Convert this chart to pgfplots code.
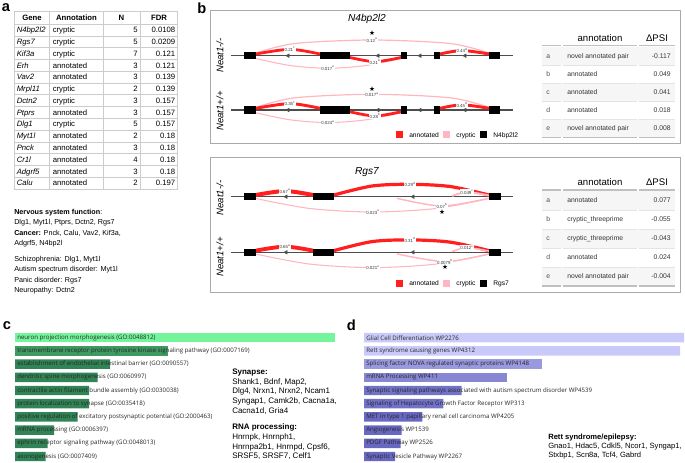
\documentclass[border=0pt]{standalone}
\usepackage{pgfplots}
\pgfplotsset{compat=1.18}
\usepackage{fontspec}
\setmainfont{Liberation Sans}
\newfontfamily\osans{Open Sans}
\newfontfamily\djv{DejaVu Sans}

\definecolor{annred}{HTML}{FF1F1F}
\definecolor{crypink}{HTML}{FFB6C1}
\definecolor{intron}{HTML}{4D4D4D}
\definecolor{grn1}{HTML}{74F59C}
\definecolor{grn2}{HTML}{3F9A62}
\definecolor{grn3}{HTML}{318455}
\definecolor{lav1}{HTML}{CACAFA}
\definecolor{lav3}{HTML}{9999DE}
\definecolor{lav4}{HTML}{8787D4}
\definecolor{lav5}{HTML}{7272C9}
\definecolor{lav6}{HTML}{6868C3}
\definecolor{gridg}{HTML}{CCCCCC}
\definecolor{boxg}{HTML}{AAAAAA}
\definecolor{rowg}{HTML}{F6F6F6}
\definecolor{hdrg}{HTML}{C0C0C0}
\definecolor{sepg}{HTML}{E4E4E4}
\definecolor{bartxt}{HTML}{262626}

\newcommand{\fs}[1]{\fontsize{#1}{#1}\selectfont}

\begin{document}
\begin{tikzpicture}
\useasboundingbox (0,0) rectangle (513.75pt,-347.25pt);
\tikzset{lab/.style={font=\fs{3.3}, text=black!78, fill=white, inner sep=0.35pt},
         star/.style={font=\djv\fs{5}, inner sep=0pt},
         blab/.style={anchor=west, font=\osans\fs{4.6}, text=bartxt, inner sep=0pt}}

%% ---- panel b: junction tracks (px coordinates) ----
\begin{axis}[at={(157.5pt,-7.5pt)}, anchor=north west, scale only axis,
  width=353.25pt, height=211.5pt, xmin=210, xmax=681, ymin=10, ymax=292,
  y dir=reverse, hide axis, clip=false]
% N4bp2l2
\addplot[intron, line width=0.9pt] coordinates {(230.7,55.7)(512.7,55.7)};
\addplot[intron, line width=0.9pt] coordinates {(230.7,110)(512.7,110)};
\addplot[crypink, line width=0.9pt, smooth] coordinates {(256,53)(295,43.5)(372,40)(450,43.5)(489,53)};
\addplot[crypink, line width=0.8pt, smooth] coordinates {(256,58.5)(290,65.5)(328,68.3)(366,65.5)(401,58.5)};
\addplot[crypink, line width=0.9pt, smooth] coordinates {(256,107.3)(295,97.8)(372,94.3)(450,97.8)(489,107.3)};
\addplot[crypink, line width=0.8pt, smooth] coordinates {(256,112.8)(290,119.8)(328,122.6)(366,119.8)(401,112.8)};
\addplot[annred, line width=2.1pt, smooth] coordinates {(256,54)(290,49.3)(320,54)};
\addplot[annred, line width=2.1pt, smooth] coordinates {(350,57.5)(375,61.7)(401,57.5)};
\addplot[annred, line width=2.2pt, smooth] coordinates {(440,54)(462,50.5)(489,54)};
\addplot[annred, line width=2.2pt, smooth] coordinates {(256,108.3)(290,103.6)(320,108.3)};
\addplot[annred, line width=2.1pt, smooth] coordinates {(350,111.8)(375,116)(401,111.8)};
\addplot[annred, line width=2.2pt, smooth] coordinates {(440,108.3)(462,104.8)(489,108.3)};
\addplot[black, line width=5.4pt, unbounded coords=jump] coordinates {
  (244,55.7)(256,55.7)(nan,nan)(320,55.7)(350,55.7)(nan,nan)(401,55.7)(407,55.7)
  (nan,nan)(434,55.7)(440,55.7)(nan,nan)(489,55.7)(500,55.7)};
\addplot[black, line width=5.4pt, unbounded coords=jump] coordinates {
  (244,110)(256,110)(nan,nan)(320,110)(350,110)(nan,nan)(401,110)(407,110)
  (nan,nan)(434,110)(440,110)(nan,nan)(489,110)(500,110)};
\addplot[intron, only marks, mark=triangle*, mark size=1.5pt, mark options={rotate=90}]
  coordinates {(288,55.7)(378,55.7)(420,55.7)(465,55.7)(288,110)(378,110)(420,110)(465,110)};
\node[lab] at (axis cs:372,40.3) {0.12\textsuperscript{a}};
\node[lab] at (axis cs:328,68.3) {0.017\textsuperscript{e}};
\node[lab] at (axis cs:290,49.3) {0.21\textsuperscript{c}};
\node[lab] at (axis cs:375,61.7) {0.21\textsuperscript{b}};
\node[lab] at (axis cs:462,50.5) {0.44\textsuperscript{d}};
\node[star] at (axis cs:372,33.5) {★};
\node[lab] at (axis cs:372,94.6) {0.017\textsuperscript{a}};
\node[lab] at (axis cs:328,122.6) {0.024\textsuperscript{e}};
\node[lab] at (axis cs:290,103.6) {0.35\textsuperscript{c}};
\node[lab] at (axis cs:375,116) {0.28\textsuperscript{b}};
\node[lab] at (axis cs:462,104.8) {0.45\textsuperscript{d}};
\node[star] at (axis cs:372,89.5) {★};
% Rgs7
\addplot[intron, line width=0.9pt] coordinates {(230.7,196.7)(513,196.7)};
\addplot[intron, line width=0.9pt] coordinates {(230.7,252.3)(513,252.3)};
\addplot[crypink, line width=0.8pt, smooth] coordinates {(256,198.5)(310,208.5)(373,212)(436,208.5)(489,198.5)};
\addplot[crypink, line width=1.1pt, smooth] coordinates {(397,198.3)(442,206)(489,198.3)};
\addplot[crypink, line width=0.8pt, smooth] coordinates {(256,254.1)(310,264.1)(373,267.6)(436,264.1)(489,254.1)};
\addplot[crypink, line width=1.1pt, smooth] coordinates {(397,253.9)(445,261.6)(489,253.9)};
\addplot[annred, line width=3pt, smooth] coordinates {(256,195)(285,191)(313,195)};
\addplot[annred, line width=2.4pt, smooth] coordinates {(334,195)(372,186)(410,184.3)(450,186.5)(489,195)};
\addplot[annred, line width=2.9pt, smooth] coordinates {(256,250.6)(285,246.6)(313,250.6)};
\addplot[annred, line width=2.4pt, smooth] coordinates {(334,250.6)(372,241.6)(410,239.9)(450,242.1)(489,250.6)};
\addplot[crypink, line width=1.4pt, smooth] coordinates {(452,196)(467,192)(489,195.5)};
\addplot[crypink, line width=1.2pt, smooth] coordinates {(452,251.6)(467,247.6)(489,251.1)};
\addplot[black, line width=5.4pt, unbounded coords=jump] coordinates {
  (244,196.7)(256,196.7)(nan,nan)(313,196.7)(334,196.7)(nan,nan)(489,196.7)(501,196.7)};
\addplot[black, line width=5.4pt, unbounded coords=jump] coordinates {
  (244,252.3)(256,252.3)(nan,nan)(313,252.3)(334,252.3)(nan,nan)(489,252.3)(501,252.3)};
\addplot[intron, only marks, mark=triangle*, mark size=1.5pt, mark options={rotate=90}]
  coordinates {(286,196.7)(413,196.7)(286,252.3)(413,252.3)};
\node[lab] at (axis cs:285,191) {0.67\textsuperscript{a}};
\node[lab] at (axis cs:410,184.3) {0.29\textsuperscript{d}};
\node[lab] at (axis cs:467,192) {0.049\textsuperscript{c}};
\node[lab] at (axis cs:442,206) {0.07\textsuperscript{b}};
\node[lab] at (axis cs:373,212) {0.023\textsuperscript{e}};
\node[star] at (axis cs:442,211.7) {★};
\node[lab] at (axis cs:285,246.6) {0.65\textsuperscript{a}};
\node[lab] at (axis cs:410,239.9) {0.31\textsuperscript{d}};
\node[lab] at (axis cs:467,247.6) {0.012\textsuperscript{c}};
\node[lab] at (axis cs:445,261.6) {0.0079\textsuperscript{b}};
\node[lab] at (axis cs:373,267.6) {0.021\textsuperscript{e}};
\node[star] at (axis cs:445,267.3) {★};
\end{axis}

%% ---- panel c: GO enrichment ----
\begin{axis}[at={(11.25pt,-248.33pt)}, anchor=north west, scale only axis,
  width=240.75pt, height=99pt, xmin=0, xmax=321, ymin=0.5, ymax=10.5,
  y dir=reverse, hide axis, clip=false, xbar, bar width=7.1pt]
\addplot[fill=grn1, draw=none, bar shift=0pt] coordinates {(320,1)};
\addplot[fill=grn2, draw=none, bar shift=0pt] coordinates {(153,2)};
\addplot[fill=grn3, draw=none, bar shift=0pt] coordinates {
  (95,3)(82.7,4)(74,5)(74,6)(62.7,7)(39,8)(32.7,9)(30.7,10)};
\node[blab] at (axis cs:2,1) {neuron projection morphogenesis (GO:0048812)};
\node[blab] at (axis cs:2,2) {transmembrane receptor protein tyrosine kinase signaling pathway (GO:0007169)};
\node[blab] at (axis cs:2,3) {establishment of endothelial intestinal barrier (GO:0090557)};
\node[blab] at (axis cs:2,4) {dendritic spine morphogenesis (GO:0060997)};
\node[blab] at (axis cs:2,5) {contractile actin filament bundle assembly (GO:0030038)};
\node[blab] at (axis cs:2,6) {protein localization to synapse (GO:0035418)};
\node[blab] at (axis cs:2,7) {positive regulation of excitatory postsynaptic potential (GO:2000463)};
\node[blab] at (axis cs:2,8) {mRNA processing (GO:0006397)};
\node[blab] at (axis cs:2,9) {ephrin receptor signaling pathway (GO:0048013)};
\node[blab] at (axis cs:2,10) {axonogenesis (GO:0007409)};
\end{axis}

%% ---- panel d: WikiPathways ----
\begin{axis}[at={(273pt,-248.33pt)}, anchor=north west, scale only axis,
  width=240.75pt, height=99pt, xmin=0, xmax=321, ymin=0.5, ymax=10.5,
  y dir=reverse, hide axis, clip=false, xbar, bar width=7.1pt]
\addplot[fill=lav1, draw=none, bar shift=0pt] coordinates {(320,1)(316,2)};
\addplot[fill=lav3, draw=none, bar shift=0pt] coordinates {(177.7,3)};
\addplot[fill=lav4, draw=none, bar shift=0pt] coordinates {(142.7,4)};
\addplot[fill=lav5, draw=none, bar shift=0pt] coordinates {(97.7,5)(79.3,6)};
\addplot[fill=lav6, draw=none, bar shift=0pt] coordinates {(58.3,7)(37.7,8)(36.7,9)(31,10)};
\node[blab] at (axis cs:2,1) {Glial Cell Differentiation WP2276};
\node[blab] at (axis cs:2,2) {Rett syndrome causing genes WP4312};
\node[blab] at (axis cs:2,3) {Splicing factor NOVA regulated synaptic proteins WP4148};
\node[blab] at (axis cs:2,4) {mRNA Processing WP411};
\node[blab] at (axis cs:2,5) {Synaptic signaling pathways associated with autism spectrum disorder WP4539};
\node[blab] at (axis cs:2,6) {Signaling of Hepatocyte Growth Factor Receptor WP313};
\node[blab] at (axis cs:2,7) {MET in type 1 papillary renal cell carcinoma WP4205};
\node[blab] at (axis cs:2,8) {Angiogenesis WP1539};
\node[blab] at (axis cs:2,9) {PDGF Pathway WP2526};
\node[blab] at (axis cs:2,10) {Synaptic Vesicle Pathway WP2267};
\end{axis}

%% ---- text, tables and frames (px coordinates) ----
\begin{scope}[x=0.75pt, y=-0.75pt, every node/.append style={inner sep=0pt}]
\node[anchor=base west, font=\fs{11}\bfseries] at (1.5,11.5) {a};
\node[anchor=base west, font=\fs{11}\bfseries] at (197,13.3) {b};
\node[anchor=base west, font=\fs{11}\bfseries] at (2.5,329.3) {c};
\node[anchor=base west, font=\fs{11}\bfseries] at (346.5,330) {d};

% table a
\foreach \x in {14,49.5,103,140,177.5} \draw[gridg, line width=0.4pt] (\x,11.5) -- (\x,188.9);
\draw[gridg, line width=0.4pt] (14,11.5) -- (177.5,11.5);
\foreach \k in {0,...,14} \draw[gridg, line width=0.4pt] (14,{24.1+11.77*\k}) -- (177.5,{24.1+11.77*\k});
\node[anchor=base, font=\fs{5.8}\bfseries] at (32,20.3) {Gene};
\node[anchor=base, font=\fs{5.8}\bfseries] at (76.5,20.3) {Annotation};
\node[anchor=base, font=\fs{5.8}\bfseries] at (121.5,20.3) {N};
\node[anchor=base, font=\fs{5.8}\bfseries] at (159,20.3) {FDR};
\foreach \g/\an/\n/\f [count=\k from 0] in {N4bp2l2/cryptic/5/0.0108, Rgs7/cryptic/5/0.0209,
   Kif3a/cryptic/7/0.121, Erh/annotated/3/0.121, Vav2/annotated/3/0.139, Mrpl11/cryptic/2/0.139,
   Dctn2/cryptic/3/0.157, Ptprs/annotated/3/0.157, Dlg1/cryptic/5/0.157, Myt1l/annotated/2/0.18,
   Pnck/annotated/3/0.18, Cr1l/annotated/4/0.18, Adgrf5/annotated/3/0.18, Calu/annotated/2/0.197}{
  \pgfmathsetmacro\yy{30+11.77*\k+2.8}
  \node[anchor=base west, font=\fs{5.8}\itshape] at (16.5,\yy) {\g};
  \node[anchor=base west, font=\fs{5.8}] at (52.5,\yy) {\an};
  \node[anchor=base east, font=\fs{5.8}] at (138,\yy) {\n};
  \node[anchor=base east, font=\fs{5.8}] at (175.5,\yy) {\f};
}
% text a
\begin{scope}[every node/.append style={anchor=base west, font=\fs{5.4}}]
\node at (14,214.1) {\textbf{Nervous system function}:};
\node at (14,224.6) {Dlg1, Myt1l, Ptprs, Dctn2, Rgs7};
\node at (14,235.1) {\textbf{Cancer:} Pnck, Calu, Vav2, Kif3a,};
\node at (14,245.6) {Adgrf5, N4bp2l};
\node at (14,261.1) {Schizophrenia: Dlg1, Myt1l};
\node at (14,271.6) {Autism spectrum disorder: Myt1l};
\node at (14,282.1) {Panic disorder: Rgs7};
\node at (14,292.6) {Neuropathy: Dctn2};
\end{scope}

% frames b
\draw[boxg, line width=0.7pt] (210.7,10) rectangle (680.7,143);
\draw[boxg, line width=0.7pt] (210.7,157) rectangle (680.7,292);
\node[font=\fs{7.6}\itshape] at (367,19.3) {N4bp2l2};
\node[font=\fs{7.6}\itshape] at (367,171.7) {Rgs7};
\node[rotate=90, font=\fs{7.2}\itshape] at (220,55.5) {Neat1-/-};
\node[rotate=90, font=\fs{7.2}\itshape] at (220,111) {Neat1+/+};
\node[rotate=90, font=\fs{7.2}\itshape] at (220,198) {Neat1-/-};
\node[rotate=90, font=\fs{7.2}\itshape] at (220,257) {Neat1+/+};
% legends
\foreach \ly/\gn in {135/N4bp2l2, 283.3/Rgs7}{
  \fill[annred] (396,\ly-3.5) rectangle (403,\ly+3.5);
  \node[anchor=base west, font=\fs{5}] at (409,\ly+2.3) {annotated};
  \fill[crypink] (443,\ly-3.5) rectangle (450,\ly+3.5);
  \node[anchor=base west, font=\fs{5}] at (456,\ly+2.3) {cryptic};
  \fill[black] (480,\ly-3.5) rectangle (487,\ly+3.5);
  \node[anchor=base west, font=\fs{5}] at (493,\ly+2.3) {\gn};
}
% table b top
\foreach \r in {0,2,4} \fill[rowg] (542,{47+18.1*\r}) rectangle (675,{65.1+18.1*\r});
\foreach \r in {1,...,4}{
  \draw[sepg, line width=0.5pt] (542,{47+18.1*\r}) -- (561,{47+18.1*\r});
  \draw[sepg, line width=0.5pt] (563,{47+18.1*\r}) -- (637,{47+18.1*\r});
  \draw[sepg, line width=0.5pt] (639,{47+18.1*\r}) -- (675,{47+18.1*\r});
}
\foreach \yl in {45.7,137.5}{
  \draw[hdrg, line width=1pt] (542,\yl) -- (561,\yl);
  \draw[hdrg, line width=1pt] (563,\yl) -- (637,\yl);
  \draw[hdrg, line width=1pt] (639,\yl) -- (675,\yl);
}
\node[anchor=base, font=\fs{7.2}] at (600,41.6) {annotation};
\node[anchor=base, font=\fs{7.2}] at (657,41.6) {ΔPSI};
\foreach \lt/\an/\v [count=\k from 0] in {a/novel annotated pair/-0.117, b/annotated/0.049,
   c/annotated/0.041, d/annotated/0.018, e/novel annotated pair/0.008}{
  \pgfmathsetmacro\yy{56+18.1*\k+2.4}
  \node[anchor=base west, font=\fs{5.1}, text=black!70] at (546,\yy) {\lt};
  \node[anchor=base west, font=\fs{5.1}, text=black!80] at (567,\yy) {\an};
  \node[anchor=base east, font=\fs{5.1}, text=black!80] at (671,\yy) {\v};
}
% table b bottom
\foreach \r in {0,2,4} \fill[rowg] (542,{191+19*\r}) rectangle (675,{210+19*\r});
\foreach \r in {1,...,4}{
  \draw[sepg, line width=0.5pt] (542,{191+19*\r}) -- (561,{191+19*\r});
  \draw[sepg, line width=0.5pt] (563,{191+19*\r}) -- (637,{191+19*\r});
  \draw[sepg, line width=0.5pt] (639,{191+19*\r}) -- (675,{191+19*\r});
}
\foreach \yl in {190,286}{
  \draw[hdrg, line width=1pt] (542,\yl) -- (561,\yl);
  \draw[hdrg, line width=1pt] (563,\yl) -- (637,\yl);
  \draw[hdrg, line width=1pt] (639,\yl) -- (675,\yl);
}
\node[anchor=base, font=\fs{7.2}] at (600,186) {annotation};
\node[anchor=base, font=\fs{7.2}] at (657,186) {ΔPSI};
\foreach \lt/\an/\v [count=\k from 0] in {a/annotated/0.077, b/cryptic\_threeprime/-0.055,
   c/cryptic\_threeprime/-0.043, d/annotated/0.024, e/novel annotated pair/-0.004}{
  \pgfmathsetmacro\yy{200.5+19*\k+2.4}
  \node[anchor=base west, font=\fs{5.1}, text=black!70] at (546,\yy) {\lt};
  \node[anchor=base west, font=\fs{5.1}, text=black!80] at (567,\yy) {\an};
  \node[anchor=base east, font=\fs{5.1}, text=black!80] at (671,\yy) {\v};
}

% text c
\begin{scope}[every node/.append style={anchor=base west, font=\fs{6}}]
\node at (232,374.7) {\textbf{Synapse:}};
\node at (232,384.3) {Shank1, Bdnf, Map2,};
\node at (232,393.9) {Dlg4, Nrxn1, Nrxn2, Ncam1};
\node at (232,403.5) {Syngap1, Camk2b, Cacna1a,};
\node at (232,413.1) {Cacna1d, Gria4};
\node at (232,429.9) {\textbf{RNA processing:}};
\node at (232,439.5) {Hnrnpk, Hnrnph1,};
\node at (232,449.1) {Hnrnpa2b1, Hnrnpd, Cpsf6,};
\node at (232,458.7) {SRSF5, SRSF7, Celf1};
\end{scope}
% text d
\begin{scope}[every node/.append style={anchor=base west, font=\fs{5.7}}]
\node at (548,439.5) {\textbf{Rett syndrome/epilepsy:}};
\node at (548,448.5) {Gnao1, Hdac5, Cdkl5, Ncor1, Syngap1,};
\node at (548,457.5) {Stxbp1, Scn8a, Tcf4, Gabrd};
\end{scope}
\end{scope}
\end{tikzpicture}
\end{document}
